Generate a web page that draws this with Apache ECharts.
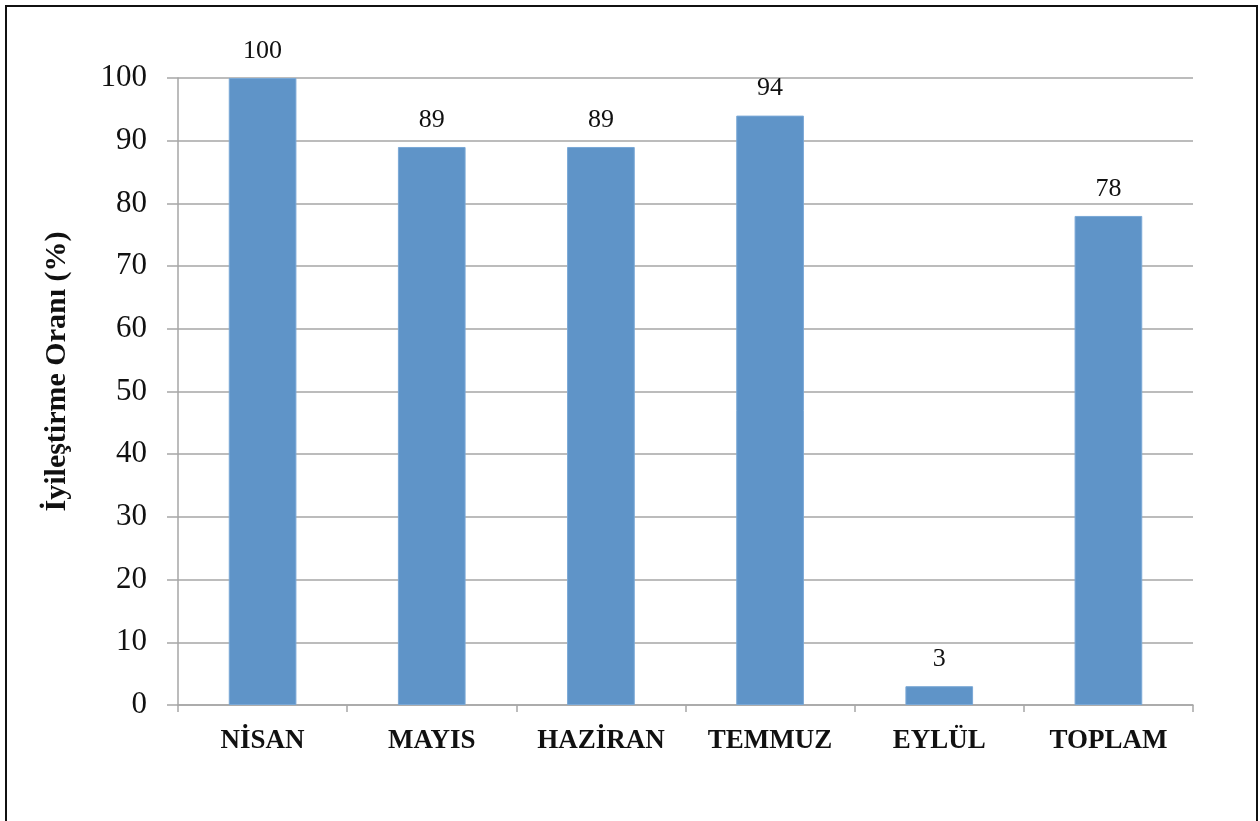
<!DOCTYPE html>
<html>
<head>
<meta charset="utf-8">
<style>
  html, body { margin: 0; padding: 0; background: #fff; }
  #frame { position: absolute; left: 5px; top: 5px; width: 1253px; height: 830px; border: 2px solid #111; box-sizing: border-box; }
  #chart { position: absolute; left: 0; top: 0; width: 1260px; height: 821px; }
</style>
<script src="https://cdn.jsdelivr.net/npm/echarts@6/dist/echarts.min.js"></script>
</head>
<body>
<div id="frame"></div>
<div id="chart"></div>
<script>
// Monthly improvement rates (%)
const months = ['NİSAN', 'MAYIS', 'HAZİRAN', 'TEMMUZ', 'EYLÜL', 'TOPLAM'];
const rates = [100, 89, 89, 94, 3, 78];
const yTicks = { min: 0, max: 100, interval: 10 };

const serif = 'Liberation Serif, Times New Roman, serif';
const gridGray = '#a6a6a6';

const chart = echarts.init(document.getElementById('chart'), null, { renderer: 'canvas' });
chart.setOption({
  backgroundColor: 'transparent',
  animation: false,
  grid: { left: 178, right: 67, top: 78, bottom: 116, containLabel: false },
  xAxis: {
    type: 'category',
    data: months,
    axisLine: { lineStyle: { color: gridGray, width: 1.5 } },
    axisTick: { show: true, length: 7, alignWithLabel: false, lineStyle: { color: gridGray, width: 1.5 } },
    axisLabel: { margin: 23, color: '#111', fontFamily: serif, fontWeight: 'bold', fontSize: 27 }
  },
  yAxis: {
    type: 'value',
    min: yTicks.min,
    max: yTicks.max,
    interval: yTicks.interval,
    name: 'İyileştirme Oranı (%)',
    nameLocation: 'middle',
    nameRotate: 90,
    nameGap: 106,
    nameTextStyle: { color: '#111', fontFamily: serif, fontWeight: 'bold', fontSize: 30, padding: [0, 0, 0, 40] },
    axisLine: { show: true, lineStyle: { color: gridGray, width: 1.5 } },
    axisTick: { show: true, length: 11, lineStyle: { color: gridGray, width: 1.5 } },
    axisLabel: { margin: 31, color: '#111', fontFamily: serif, fontSize: 31 },
    splitLine: { show: true, lineStyle: { color: gridGray, width: 1.5 } }
  },
  series: [{
    type: 'bar',
    data: rates,
    barWidth: '40%',
    itemStyle: { color: '#5f94c8', borderColor: '#7aa8d6', borderWidth: 1 },
    label: {
      show: true,
      position: 'top',
      distance: 14,
      color: '#111',
      fontFamily: serif,
      fontSize: 26,
      formatter: p => String(Math.round(p.value))
    }
  }]
});
</script>
</body>
</html>
